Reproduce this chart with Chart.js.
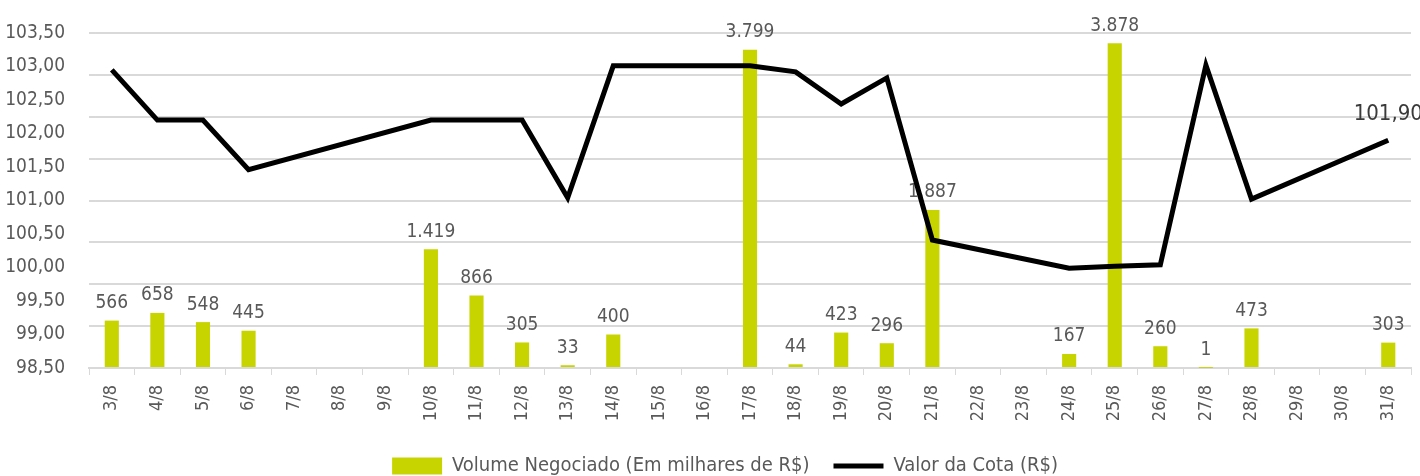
<!DOCTYPE html>
<html>
<head>
<meta charset="utf-8">
<script src="https://cdn.jsdelivr.net/npm/chart.js@4"></script>
<style>
    html, body { margin: 0; padding: 0; background: #fff; }
    #wrap { width: 1420px; height: 476px; }
</style>
</head>
<body>
<div id="wrap"><canvas id="grafico"></canvas></div>
<script>
// Dados do gráfico
const dias = ['3/8', '4/8', '5/8', '6/8', '7/8', '8/8', '9/8', '10/8', '11/8', '12/8', '13/8', '14/8', '15/8', '16/8',
    '17/8', '18/8', '19/8', '20/8', '21/8', '22/8', '23/8', '24/8', '25/8', '26/8', '27/8', '28/8', '29/8', '30/8', '31/8'];
const volume = [566, 658, 548, 445, null, null, null, 1419, 866, 305, 33, 400, null, null,
    3799, 44, 423, 296, 1887, null, null, 167, 3878, 260, 1, 473, null, null, 303];
const cota = [102.95, 102.20, 102.20, 101.46, null, null, null, 102.20, 102.20, 102.20, 101.04, 103.01, 103.01, 103.01,
    103.01, 102.92, 102.44, 102.83, 100.41, null, null, 99.99, 100.02, 100.04, 103.02, 101.02, null, null, 101.90];
const ticksCota = { min: 98.5, max: 103.5, passo: 0.5 };
const ticksVolume = { min: 0, max: 4000, passo: 500 };

const FONTE = "'Liberation Sans Narrow', 'DejaVu Sans Condensed', 'Roboto', sans-serif";
const CINZA = '#595959';
const VERDE = '#c8d400';

function formatarMilhar(v) {
    return String(v).replace(/\B(?=(\d{3})+(?!\d))/g, '.');
}

// Rótulos de dados (barras e último ponto da linha)
const rotulos = {
    id: 'rotulos',
    afterDatasetDraw(chart, args) {
        const ctx = chart.ctx;
        const ds = chart.data.datasets[args.index];
        ctx.save();
        ctx.textAlign = 'center';
        ctx.textBaseline = 'bottom';
        if (ds.type === 'bar') {
            ctx.font = '19px ' + FONTE;
            ctx.fillStyle = CINZA;
            args.meta.data.forEach((el, i) => {
                if (ds.data[i] === null) return;
                ctx.fillText(formatarMilhar(ds.data[i]), el.x, el.y - 8);
            });
        } else {
            const ult = ds.data.length - 1;
            const el = args.meta.data[ult];
            ctx.font = '22px ' + FONTE;
            ctx.fillStyle = '#3a3a3a';
            ctx.fillText(ds.data[ult].toFixed(2).replace('.', ','), el.x, el.y - 15);
        }
        ctx.restore();
    }
};

// Deslocar a legenda (direita e para baixo), como no original
const ajusteLegenda = {
    id: 'ajusteLegenda',
    afterLayout(chart) {
        const lg = chart.legend;
        if (!lg) return;
        lg.left += 19;
        lg.right += 19;
        lg.top += 10;
        lg.bottom += 10;
    }
};

const grafico = new Chart(document.getElementById('grafico'), {
    data: {
        labels: dias,
        datasets: [{
            type: 'line',
            label: 'Valor da Cota (R$)',
            data: cota,
            yAxisID: 'y',
            borderColor: '#000',
            backgroundColor: '#000',
            borderWidth: 5,
            pointRadius: 0,
            tension: 0,
            spanGaps: true,
            order: 0
        }, {
            type: 'bar',
            label: 'Volume Negociado (Em milhares de R$)',
            data: volume,
            yAxisID: 'y2',
            backgroundColor: VERDE,
            borderWidth: 0,
            barPercentage: 0.31,
            categoryPercentage: 1,
            order: 1
        }]
    },
    options: {
        responsive: true,
        maintainAspectRatio: false,
        animation: false,
        layout: { padding: { top: 33, right: 8, left: 0, bottom: 0 } },
        plugins: {
            legend: {
                position: 'bottom',
                reverse: true,
                labels: {
                    usePointStyle: true,
                    pointStyleWidth: 50,
                    boxHeight: 17,
                    padding: 24,
                    color: CINZA,
                    font: { family: FONTE, size: 20 },
                    generateLabels(chart) {
                        const itens = Chart.defaults.plugins.legend.labels.generateLabels(chart);
                        itens.forEach(it => {
                            it.pointStyle = chart.data.datasets[it.datasetIndex].type === 'line' ? 'line' : 'rect';
                        });
                        return itens;
                    }
                }
            },
            tooltip: { enabled: false }
        },
        scales: {
            x: {
                offset: true,
                grid: {
                    offset: true,
                    drawOnChartArea: false,
                    drawTicks: true,
                    tickLength: 7,
                    color: '#d9d9d9'
                },
                border: { color: '#d9d9d9', width: 2 },
                ticks: {
                    color: CINZA,
                    font: { family: FONTE, size: 18 },
                    minRotation: 90,
                    maxRotation: 90,
                    autoSkip: false,
                    padding: 10
                },
                afterFit(escala) { escala.height = 54; }
            },
            y: {
                position: 'left',
                min: ticksCota.min,
                max: ticksCota.max,
                grid: { display: false },
                border: { display: false },
                ticks: {
                    stepSize: ticksCota.passo,
                    color: CINZA,
                    padding: 16,
                    font: { family: FONTE, size: 19 },
                    callback: v => v.toFixed(2).replace('.', ',')
                },
                afterFit(escala) { escala.width = 89; }
            },
            y2: {
                position: 'right',
                min: ticksVolume.min,
                max: ticksVolume.max,
                grid: { color: '#d9d9d9', lineWidth: 2, drawTicks: false },
                border: { display: false },
                ticks: { stepSize: ticksVolume.passo, display: false },
                afterFit(escala) { escala.width = 0; }
            }
        }
    },
    plugins: [rotulos, ajusteLegenda]
});
</script>
</body>
</html>
